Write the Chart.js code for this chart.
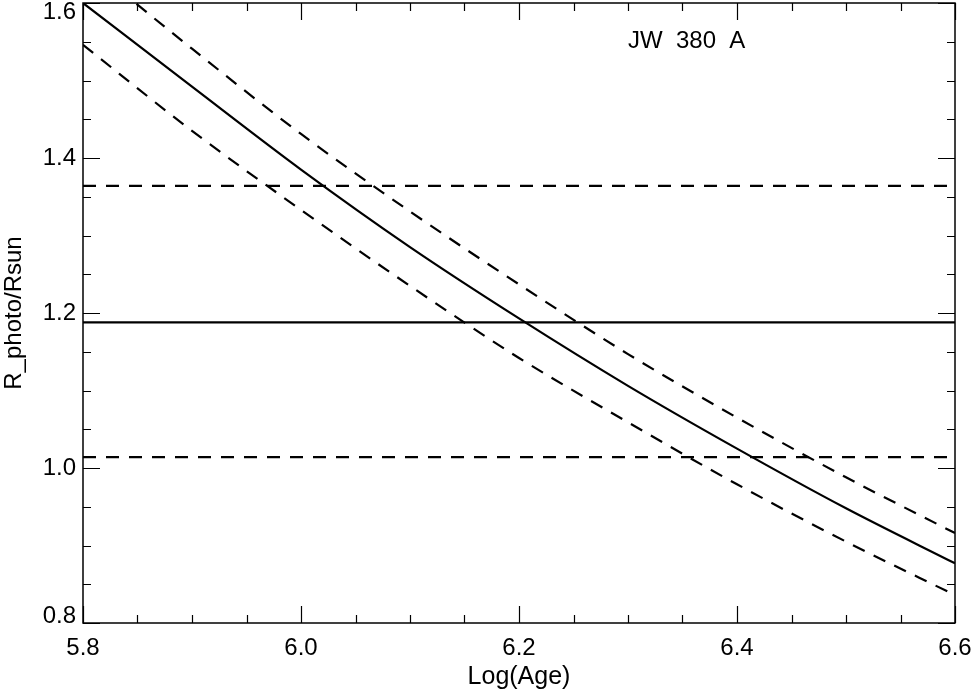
<!DOCTYPE html>
<html>
<head>
<meta charset="utf-8">
<script src="https://cdn.jsdelivr.net/npm/chart.js@4"></script>
<style>
  html, body { margin: 0; padding: 0; background: #fff; }
  #wrap { width: 973px; height: 692px; }
</style>
</head>
<body>
<div id="wrap"><canvas id="radius"></canvas></div>
<script>
// log(age) grid the tracks were read at
const logAge = [5.8, 5.9, 6.0, 6.1, 6.2, 6.3, 6.4, 6.5, 6.6];
// model radius track and its +/- tracks
const radiusTrack = [1.600, 1.492, 1.385, 1.285, 1.193, 1.106, 1.025, 0.948, 0.877];
const radiusUpper = [1.655, 1.541, 1.431, 1.331, 1.237, 1.147, 1.065, 0.988, 0.916];
const radiusLower = [1.546, 1.435, 1.333, 1.235, 1.142, 1.059, 0.979, 0.905, 0.836];
// measured radius and its error band
const rObs = 1.188;
const rObsHi = 1.364;
const rObsLo = 1.014;
const xRange = [5.8, 6.6];
const yRange = [0.8, 1.6];
const xTicks = [5.8, 6.0, 6.2, 6.4, 6.6];
const yTicks = [0.8, 1.0, 1.2, 1.4, 1.6];
const starName = 'JW  380  A';

const FONT = "'Liberation Sans', Arial, Helvetica, sans-serif";
const FSIZE = 24;
const dash = [13, 10];

function pts(xs, ys) { return xs.map((x, i) => ({x: x, y: ys[i]})); }
function hline(v) { return [{x: xRange[0], y: v}, {x: xRange[1], y: v}]; }

function lineSet(data, dashed, smooth) {
  return {
    data: data,
    borderColor: '#000',
    borderWidth: 2.2,
    borderDash: dashed ? dash : [],
    pointRadius: 0,
    fill: false,
    tension: smooth ? 0.4 : 0,
    cubicInterpolationMode: smooth ? 'monotone' : 'default'
  };
}

// inward ticks on all four sides, major every 0.2, minor every 0.05
const frameTicks = {
  id: 'frameTicks',
  afterDatasetsDraw(chart) {
    const ctx = chart.ctx, a = chart.chartArea;
    const xs = chart.scales.x, ys = chart.scales.y;
    ctx.save();
    ctx.strokeStyle = '#000';
    ctx.lineWidth = 1.5;
    ctx.strokeRect(a.left, a.top, a.right - a.left, a.bottom - a.top);
    ctx.lineWidth = 1.2;
    for (let i = 0; i <= 16; i++) {
      const v = xRange[0] + i * 0.05;
      const px = Math.round(xs.getPixelForValue(v)) + 0.5;
      const len = i % 4 === 0 ? 17 : 8;
      ctx.beginPath();
      ctx.moveTo(px, a.bottom); ctx.lineTo(px, a.bottom - len);
      ctx.moveTo(px, a.top); ctx.lineTo(px, a.top + len);
      ctx.stroke();
    }
    for (let i = 0; i <= 16; i++) {
      const v = yRange[0] + i * 0.05;
      const py = Math.round(ys.getPixelForValue(v)) + 0.5;
      const len = i % 4 === 0 ? 17 : 8;
      ctx.beginPath();
      ctx.moveTo(a.left, py); ctx.lineTo(a.left + len, py);
      ctx.moveTo(a.right, py); ctx.lineTo(a.right - len, py);
      ctx.stroke();
    }
    ctx.fillStyle = '#000';
    ctx.font = FSIZE + 'px ' + FONT;
    // the end labels of the y axis sit inside the axis range
    ctx.textAlign = 'right';
    ctx.textBaseline = 'middle';
    ctx.fillText(yRange[1].toFixed(1), a.left - 7, ys.getPixelForValue(yRange[1]) + 9);
    ctx.fillText(yRange[0].toFixed(1), a.left - 7, ys.getPixelForValue(yRange[0]) - 7);
    ctx.textAlign = 'left';
    ctx.fillText(starName, a.left + 545, a.top + 38);
    ctx.restore();
  }
};

new Chart(document.getElementById('radius'), {
  type: 'line',
  data: {
    datasets: [
      lineSet(pts(logAge, radiusTrack), false, true),
      lineSet(pts(logAge, radiusUpper), true, true),
      lineSet(pts(logAge, radiusLower), true, true),
      lineSet(hline(rObs), false, false),
      lineSet(hline(rObsHi), true, false),
      lineSet(hline(rObsLo), true, false)
    ]
  },
  options: {
    responsive: true,
    maintainAspectRatio: false,
    animation: false,
    layout: { padding: { top: 3, right: 18, left: 0, bottom: 0 } },
    plugins: { legend: { display: false }, tooltip: { enabled: false } },
    scales: {
      x: {
        type: 'linear',
        min: xRange[0], max: xRange[1],
        afterBuildTicks: s => { s.ticks = xTicks.map(v => ({value: v})); },
        afterFit: s => { s.height = 69; s.paddingLeft = 0; s.paddingRight = 0; },
        grid: { display: false, drawTicks: false },
        border: { display: false },
        ticks: {
          color: '#000', padding: 11,
          font: { family: FONT, size: FSIZE },
          callback: v => v.toFixed(1),
          maxRotation: 0
        },
        title: {
          display: true, text: 'Log(Age)', color: '#000',
          font: { family: FONT, size: 25 }, padding: { top: 2, bottom: 0 }
        }
      },
      y: {
        type: 'linear',
        min: yRange[0], max: yRange[1],
        afterBuildTicks: s => { s.ticks = yTicks.map(v => ({value: v})); },
        afterFit: s => { s.width = 83; s.paddingTop = 0; s.paddingBottom = 0; },
        grid: { display: false, drawTicks: false },
        border: { display: false },
        ticks: {
          color: '#000', padding: 7,
          font: { family: FONT, size: FSIZE },
          callback: v => (v === yRange[0] || v === yRange[1]) ? '' : v.toFixed(1)
        },
        title: {
          display: true, text: 'R_photo/Rsun', color: '#000',
          font: { family: FONT, size: FSIZE }, padding: { top: 0, bottom: 0 }
        }
      }
    }
  },
  plugins: [frameTicks]
});
</script>
</body>
</html>
